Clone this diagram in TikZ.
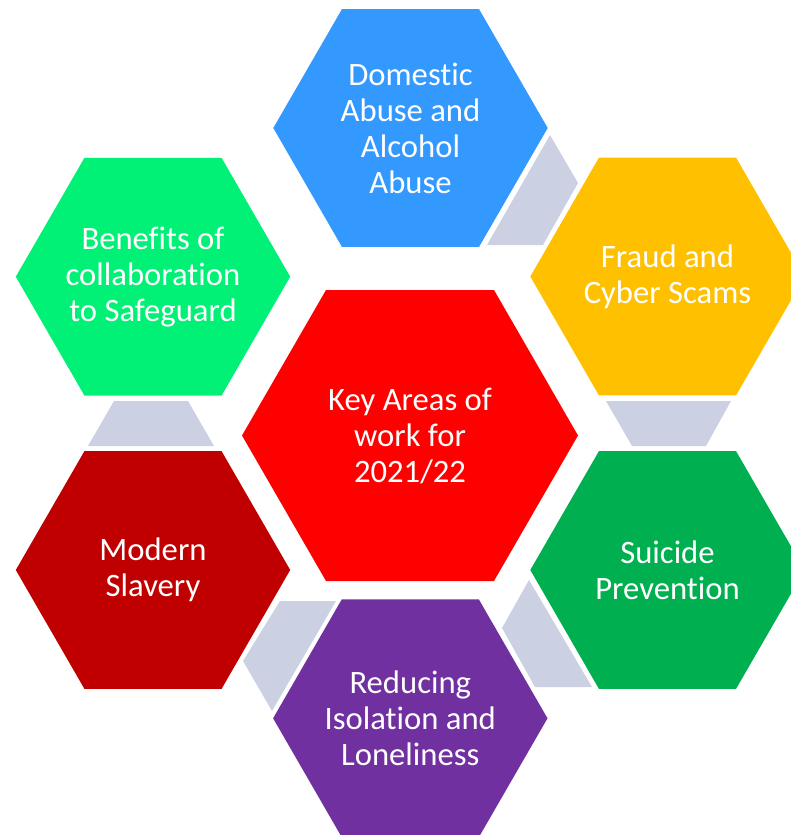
\documentclass[tikz,border=0pt]{standalone}
\usepackage{fontspec}
\setmainfont{Carlito}[Ligatures=NoCommon]
\definecolor{keyred}{HTML}{FF0000}
\definecolor{domblue}{HTML}{3399FF}
\definecolor{fraudyellow}{HTML}{FFC000}
\definecolor{suicidegreen}{HTML}{00B050}
\definecolor{isopurple}{HTML}{7030A0}
\definecolor{slaveryred}{HTML}{C00000}
\definecolor{benefitgreen}{HTML}{00F176}
\definecolor{linkgrey}{HTML}{CBD0E3}
\begin{document}
\begin{tikzpicture}[x=0.75pt,y=-0.75pt,
		hexlabel/.style={text=white, align=center, font=\fontsize{24.5}{27}\selectfont},
		link/.style={fill=linkgrey}]
			\useasboundingbox (0,0) rectangle (790,835);
			
			% connectors between the outer hexagons
			\fill[link] (487,245) -- (550,135) -- (578,183) -- (543,245) -- cycle;
			\fill[link] (606,401) -- (731,401) -- (706,446) -- (632,446) -- cycle;
			\fill[link] (529,580) -- (502,628) -- (535,687) -- (592,687) -- cycle;
			\fill[link] (280,601) -- (336,601) -- (272,711) -- (243,661) -- cycle;
			\fill[link] (114,401) -- (188,401) -- (214,446) -- (88,446) -- cycle;
			
			% hexagons
			\fill[keyred] (410,435.5) +(0:168) -- +(60:168) -- +(120:168) -- +(180:168) -- +(240:168) -- +(300:168) -- cycle;
			\fill[domblue] (410.5,128) +(0:137.2) -- +(60:137.2) -- +(120:137.2) -- +(180:137.2) -- +(240:137.2) -- +(300:137.2) -- cycle;
			\fill[fraudyellow] (667.5,276.5) +(0:137.2) -- +(60:137.2) -- +(120:137.2) -- +(180:137.2) -- +(240:137.2) -- +(300:137.2) -- cycle;
			\fill[suicidegreen] (667.5,570) +(0:137.2) -- +(60:137.2) -- +(120:137.2) -- +(180:137.2) -- +(240:137.2) -- +(300:137.2) -- cycle;
			\fill[isopurple] (410.3,718.3) +(0:137.2) -- +(60:137.2) -- +(120:137.2) -- +(180:137.2) -- +(240:137.2) -- +(300:137.2) -- cycle;
			\fill[slaveryred] (153,570) +(0:137.2) -- +(60:137.2) -- +(120:137.2) -- +(180:137.2) -- +(240:137.2) -- +(300:137.2) -- cycle;
			\fill[benefitgreen] (153,276.7) +(0:137.2) -- +(60:137.2) -- +(120:137.2) -- +(180:137.2) -- +(240:137.2) -- +(300:137.2) -- cycle;
			
			% labels
			\node[hexlabel] (keyareas) at (410,435.5) {Key Areas of\\work for\\2021/22};
			\node[hexlabel] (domestic) at (410.5,128) {Domestic\\Abuse and\\Alcohol\\Abuse};
			\node[hexlabel] (fraud) at (667.5,276.5) {Fraud and\\Cyber Scams};
			\node[hexlabel] (suicide) at (667.5,570) {Suicide\\Prevention};
			\node[hexlabel] (isolation) at (410.3,718.3) {Reducing\\Isolation and\\Loneliness};
			\node[hexlabel] (slavery) at (153,570) {Modern\\Slavery};
			\node[hexlabel] (benefits) at (153,276.7) {Benefits of\\collaboration\\to Safeguard};
		\end{tikzpicture}
\end{document}
